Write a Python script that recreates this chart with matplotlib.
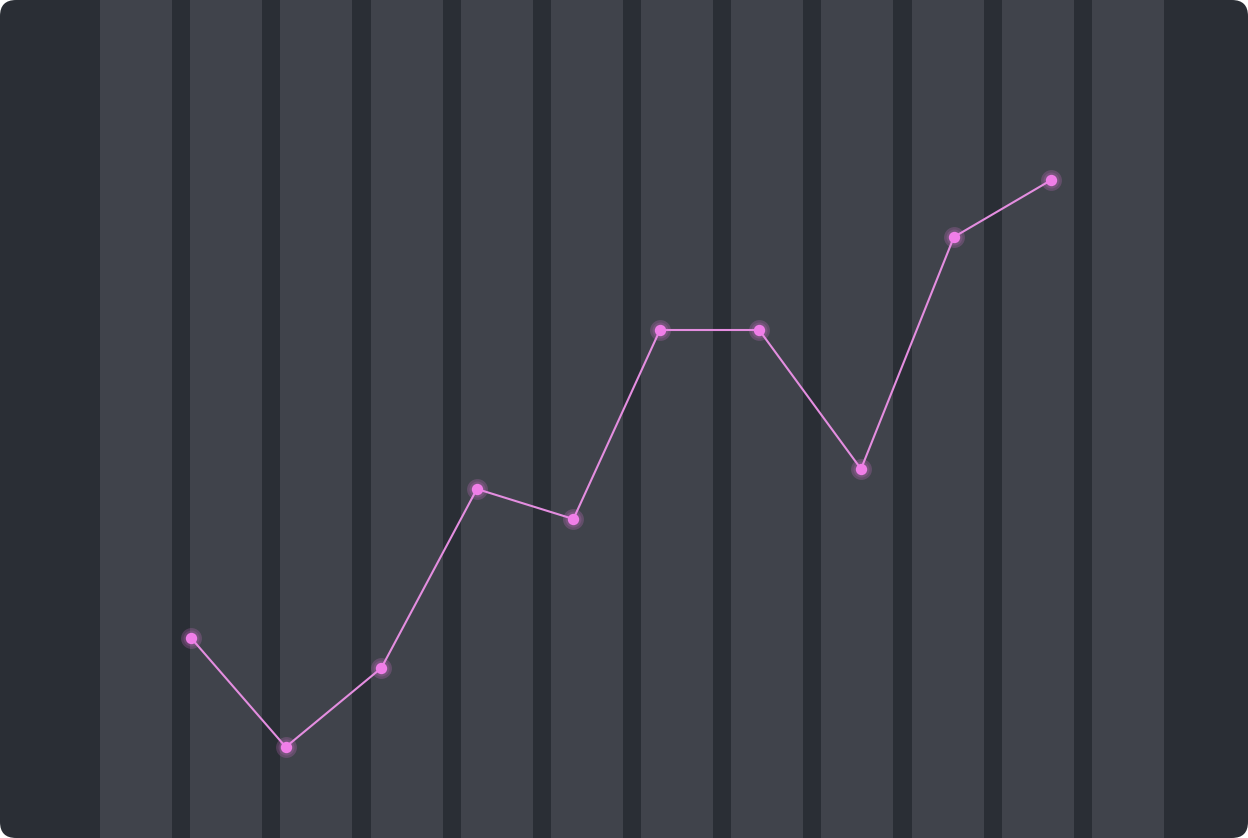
import matplotlib
matplotlib.use("Agg")
import matplotlib.pyplot as plt
from matplotlib.patches import FancyBboxPatch

# Data
x_values = [1.11, 2.16, 3.22, 4.28, 5.35, 6.31, 7.41, 8.54, 9.57, 10.65]
y_values = [200, 91, 170, 349, 319, 508, 508, 369, 601, 658]
grid_positions = [1, 2, 3, 4, 5, 6, 7, 8, 9, 10, 11]

BG = "#2a2e35"
PANEL = "#40434b"
LINE = "#e48ee0"
POINT = "#f07ee8"

W, H = 1248, 838
fig = plt.figure(figsize=(W / 100, H / 100), dpi=100, facecolor="white")

# background with rounded corners
bg_ax = fig.add_axes([0, 0, 1, 1])
bg_ax.set_xlim(0, W)
bg_ax.set_ylim(0, H)
bg_ax.axis("off")
bg_ax.add_patch(FancyBboxPatch((0, 0), W, H, boxstyle="round,pad=0,rounding_size=16",
                               facecolor=BG, edgecolor="none"))

ax = fig.add_axes([100 / W, 0, 1064 / W, 1])
ax.set_facecolor(PANEL)
ax.set_xlim(0.1, 11.9)
ax.set_ylim(0, H)
for g in grid_positions:
    ax.axvspan(g - 0.1, g + 0.1, color=BG, lw=0, zorder=1)

ax.plot(x_values, y_values, color=LINE, lw=1.5, zorder=3)
ax.plot(x_values, y_values, ls="none", marker="o", ms=15, color=POINT, alpha=0.2,
        mec="none", zorder=4)
ax.plot(x_values, y_values, ls="none", marker="o", ms=11.5, color=POINT, alpha=0.15,
        mec="none", zorder=4)
ax.plot(x_values, y_values, ls="none", marker="o", ms=8.2, color=POINT, mec="none", zorder=5)

for s in ax.spines.values():
    s.set_visible(False)
ax.set_xticks([])
ax.set_yticks([])

fig.savefig("out.png", dpi=100, facecolor="white")
